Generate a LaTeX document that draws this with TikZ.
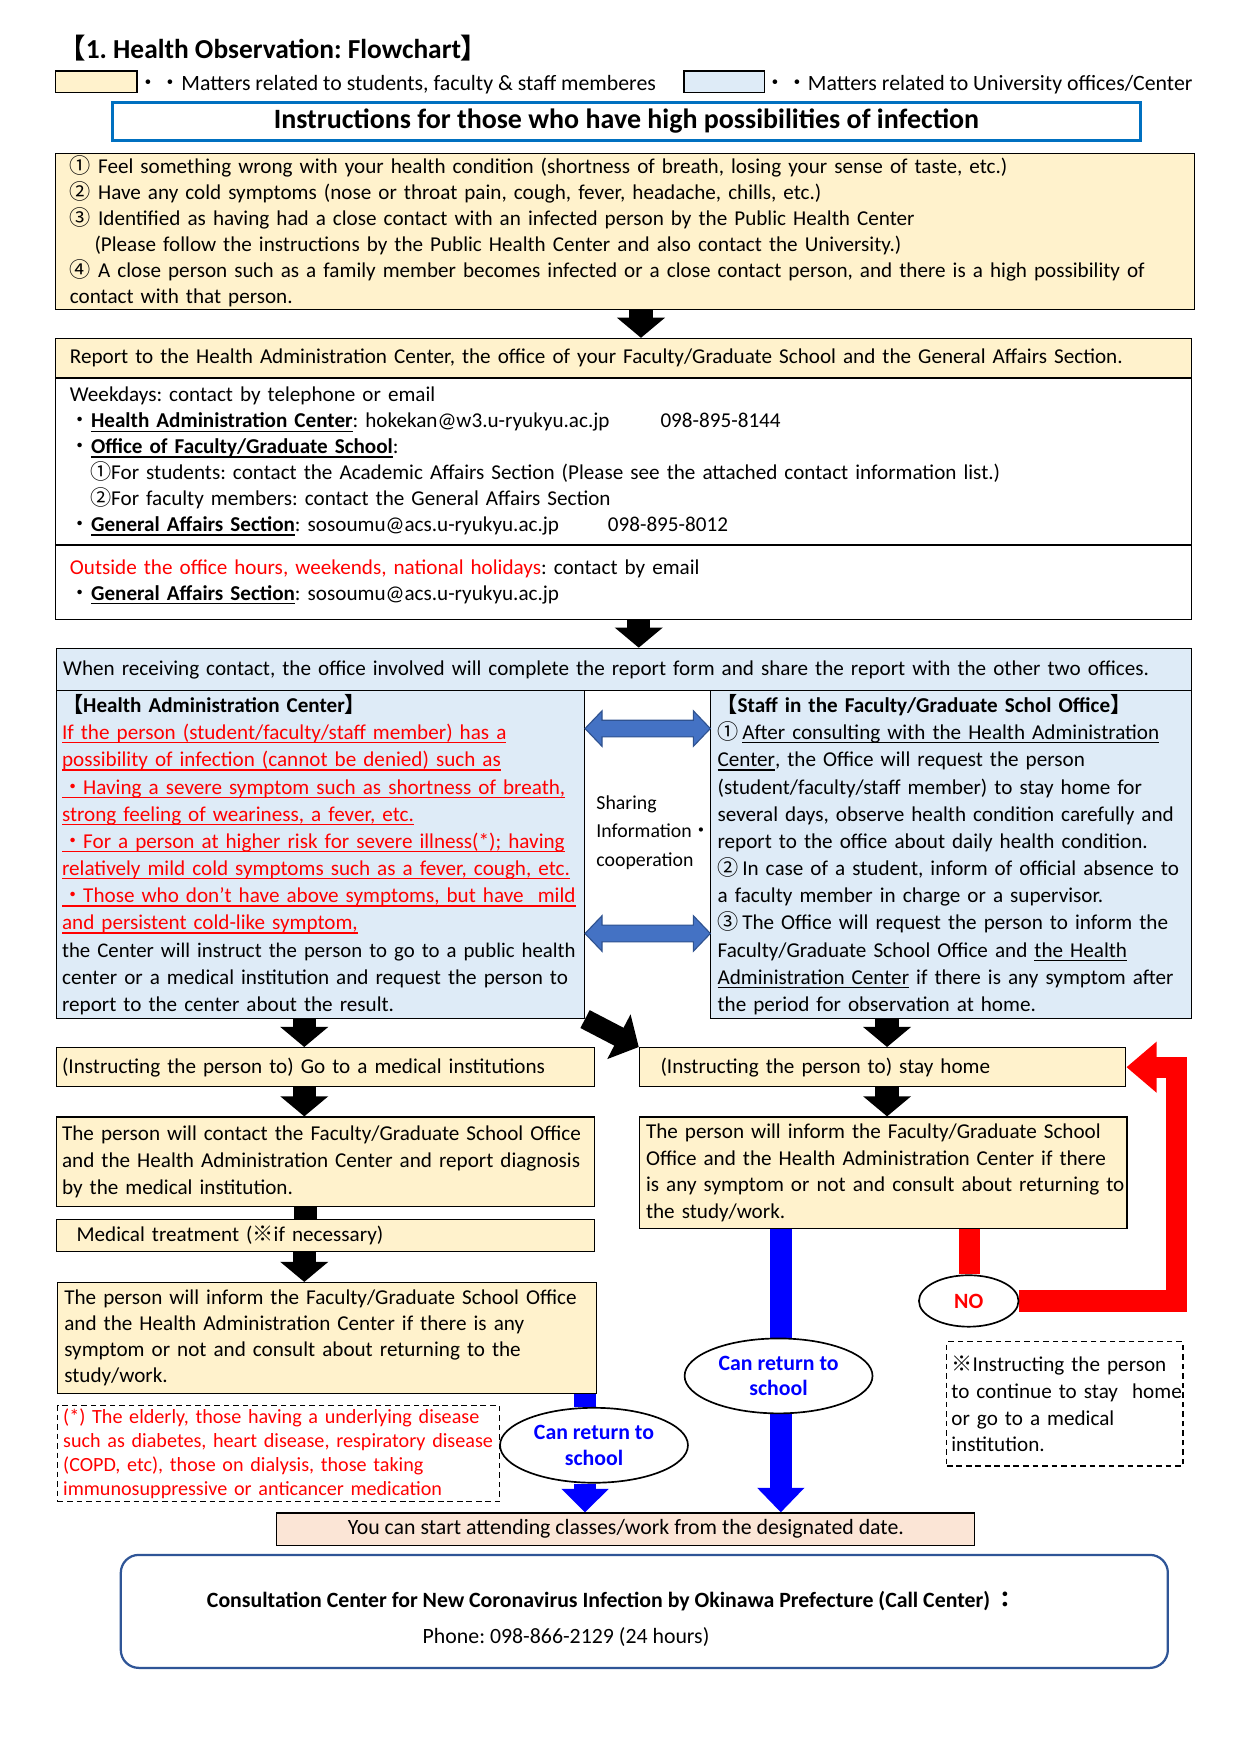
\documentclass[tikz,border=0pt]{standalone}
\usepackage{fontspec}
\setmainfont{Carlito}
\newfontfamily\cjk{Noto Sans CJK JP}
\usetikzlibrary{positioning, shapes.geometric, arrows.meta, backgrounds}
\definecolor{cellyel}{RGB}{255,242,204}
\definecolor{cellblu}{RGB}{222,235,247}
\definecolor{hdrblue}{RGB}{0,112,192}
\definecolor{arrblue}{RGB}{68,114,196}
\definecolor{arrline}{RGB}{47,82,143}
\definecolor{peach}{RGB}{251,229,214}
\definecolor{frameblue}{RGB}{47,85,151}
\newcommand\bodyfont{\fontsize{18.9}{23.2}\selectfont}
\newcommand\bigbody{\fontsize{19.5}{23.2}\selectfont}
\newcommand\smallfont{\fontsize{18}{21.3}\selectfont}
\newsavebox\ulbox
\newcommand\uln[1]{\leavevmode\sbox\ulbox{#1}\rlap{\rule[-3.4pt]{\wd\ulbox}{1.1pt}}\usebox\ulbox}
\frenchspacing
\hyphenpenalty=10000
\exhyphenpenalty=10000

\begin{document}
\begin{tikzpicture}[x=1pt, y=-1pt,
    box/.style={draw, line width=1pt, anchor=north west, inner ysep=0pt, align=left, font=\bodyfont},
    ybox/.style={box, fill=cellyel},
    bbox/.style={box, fill=cellblu},
    blkarr/.style={line width=21pt, -{Triangle[width=42pt, length=18pt]}},
    bluarr/.style={blue, line width=20pt},
    redarr/.style={red, line width=19pt},
    oval/.style={ellipse, draw, line width=1.5pt, fill=white, inner sep=0pt, align=center, font=\bfseries\bigbody},
    sharearr/.style={draw=arrline, fill=arrblue, line width=1pt, line join=miter},
    notebox/.style={draw, dash pattern=on 5pt off 3.5pt, line width=1pt, anchor=north west, inner ysep=0pt, align=left}]
    \useasboundingbox (0,0) rectangle (1109,1568);

    \node[anchor=west, inner sep=0pt, font=\bfseries\fontsize{24.5}{30}\selectfont] (title) at (52,43)
        {{\cjk 【}1. Health Observation: Flowchart{\cjk 】}};
    \node[ybox, minimum width=73pt, minimum height=19pt] (legy) at (49,63) {};
    \node[anchor=west, inner sep=0pt, font=\bigbody] (legyt) at (123,76)
        {{\cjk ・・}Matters related to students, faculty \& staff memberes};
    \node[bbox, minimum width=72pt, minimum height=19pt] (legb) at (611,63) {};
    \node[anchor=west, inner sep=0pt, font=\bigbody] (legbt) at (683,76)
        {{\cjk ・・}Matters related to University offices/Center};
    \node[draw=hdrblue, line width=3pt, anchor=north west, minimum width=919pt, minimum height=34pt,
        inner sep=0pt, font=\bfseries\fontsize{25}{30}\selectfont] (instr) at (99,90)
        {Instructions for those who have high possibilities of infection};

    \node[ybox, text width=992pt, inner xsep=13pt, minimum height=139pt] (sympt) at (49,137) {%
        {\cjk ①} Feel something wrong with your health condition (shortness of breath, losing your sense of taste, etc.)\\
        {\cjk ②} Have any cold symptoms (nose or throat pain, cough, fever, headache, chills, etc.)\\
        {\cjk ③} Identified as having had a close contact with an infected person by the Public Health Center\\
        \hspace*{22pt}(Please follow the instructions by the Public Health Center and also contact the University.)\\
        \mbox{{\cjk ④} A close person such as a family member becomes infected or a close contact person, and there is a high possibility of}\\
        contact with that person.};

    \node[ybox, text width=990pt, inner xsep=13pt, minimum height=35pt] (rephdr) at (49,302)
        {Report to the Health Administration Center, the office of your Faculty/Graduate School and the General Affairs Section.};
    \node[box, below=0pt of rephdr, text width=990pt, inner xsep=13pt, minimum height=148pt] (week) {%
        Weekdays: contact by telephone or email\\
        \makebox[528pt][l]{{\cjk ・}\uln{\textbf{Health Administration Center}}: hokekan@w3.u-ryukyu.ac.jp}098-895-8144\\
        {\cjk ・}\uln{\textbf{Office of Faculty/Graduate School}}:\\
        \hspace*{18pt}{\cjk ①}For students: contact the Academic Affairs Section (Please see the attached contact information list.)\\
        \hspace*{18pt}{\cjk ②}For faculty members: contact the General Affairs Section\\
        \makebox[481pt][l]{{\cjk ・}\uln{\textbf{General Affairs Section}}: sosoumu@acs.u-ryukyu.ac.jp}098-895-8012};
    \node[box, below=0pt of week, text width=990pt, inner xsep=13pt, minimum height=66pt] (offhrs) {%
        {\color{red}Outside the office hours, weekends, national holidays}: contact by email\\
        {\cjk ・}\uln{\textbf{General Affairs Section}}: sosoumu@acs.u-ryukyu.ac.jp};

    \node[bbox, text width=1003pt, inner xsep=6pt, minimum height=38pt] (recv) at (50,579)
        {When receiving contact, the office involved will complete the report form and share the report with the other two offices.};
    \node[bbox, text width=462pt, inner xsep=5pt, minimum height=293pt, font=\fontsize{18.9}{24.3}\selectfont] (hac) at (50,617) {%
        \textbf{{\cjk 【}Health Administration Center{\cjk 】}}\\
        {\color{red}\uln{If the person (student/faculty/staff member) has a}}\\
        {\color{red}\uln{possibility of infection (cannot be denied) such as}}\\
        {\color{red}\uln{{\cjk ・}Having a severe symptom such as shortness of breath,}}\\
        {\color{red}\uln{strong feeling of weariness, a fever, etc.}}\\
        {\color{red}\uln{{\cjk ・}For a person at higher risk for severe illness(*); having}}\\
        {\color{red}\uln{relatively mild cold symptoms such as a fever, cough, etc.}}\\
        {\color{red}\uln{{\cjk ・}Those who don't have above symptoms, but have\ \ mild}}\\
        {\color{red}\uln{and persistent cold-like symptom,}}\\
        \mbox{\fontsize{18.6}{24.3}\selectfont the Center will instruct the person to go to a public health}\\
        \mbox{center or a medical institution and request the person to}\\
        report to the center about the result.};
    \node[bbox, text width=418pt, inner xsep=6pt, minimum height=293pt, font=\fontsize{18.9}{24.3}\selectfont] (staff) at (635,617) {%
        \textbf{\hspace*{-1pt}{\cjk 【}Staff in the Faculty/Graduate Schol Office{\cjk 】}}\\
        {\cjk ①}\,\uln{After consulting with the Health Administration}\\
        \uln{Center}, the Office will request the person\\
        \mbox{(student/faculty/staff member) to stay home for}\\
        \mbox{several days, observe health condition carefully and}\\
        \mbox{report to the office about daily health condition.}\\
        \mbox{{\cjk ②}\,In case of a student, inform of official absence to}\\
        a faculty member in charge or a supervisor.\\
        \mbox{{\cjk ③}\,The Office will request the person to inform the}\\
        \mbox{Faculty/Graduate School Office and \uln{the Health}}\\
        \mbox{\uln{Administration Center} if there is any symptom after}\\
        the period for observation at home.};
    \node[anchor=west, inner sep=0pt, align=left, font=\fontsize{17.7}{25.5}\selectfont] (sharetxt) at (533,744)
        {Sharing\\Information{\cjk ・}\\cooperation};
    \coordinate (sh1) at (hac.east |- 0,651.3);
    \coordinate (sh2) at (hac.east |- 0,834.5);

    \node[ybox, text width=471pt, inner xsep=5pt, minimum height=35pt] (goto) at (50,936)
        {(Instructing the person to) Go to a medical institutions};
    \node[ybox, text width=423pt, inner xsep=6pt, minimum height=35pt] (home) at (571,936)
        {\hspace*{13pt}(Instructing the person to) stay home};
    \node[ybox, text width=471pt, inner xsep=5pt, minimum height=80pt, font=\fontsize{18.9}{24}\selectfont] (contact) at (50,998) {%
        \mbox{The person will contact the Faculty/Graduate School Office}\\
        \mbox{and the Health Administration Center and report diagnosis}\\
        by the medical institution.};
    \node[ybox, text width=469pt, inner xsep=6pt, minimum height=28pt] (medt) at (50,1090)
        {\hspace*{12pt}Medical treatment ({\cjk ※}if necessary)};
    \node[ybox, text width=470pt, inner xsep=6pt, minimum height=99pt] (informL) at (51,1146) {%
        \mbox{The person will inform the Faculty/Graduate School Office}\\
        and the Health Administration Center if there is any\\
        symptom or not and consult about returning to the\\
        study/work.};
    \node[ybox, text width=424pt, inner xsep=6pt, minimum height=100pt, font=\fontsize{18.9}{24}\selectfont] (informR) at (571,998) {%
        \mbox{The person will inform the Faculty/Graduate School}\\
        \mbox{Office and the Health Administration Center if there}\\
        \mbox{is any symptom or not and consult about returning to}\\
        the study/work.};

    \node[notebox, text width=385pt, inner xsep=5pt, minimum height=86pt, text=red, font=\smallfont] (frail) at (51,1256) {%
        (*) The elderly, those having a underlying disease\\
        \mbox{such as diabetes, heart disease, respiratory disease}\\
        (COPD, etc), those on dialysis, those taking\\
        immunosuppressive or anticancer medication};
    \node[notebox, text width=203pt, inner xsep=4pt, minimum height=111pt, font=\fontsize{18.9}{24}\selectfont] (note) at (846,1199) {%
        {\cjk ※}Instructing the person\\
        \mbox{to continue to stay\ \ home}\\
        or go to a medical\\
        institution.};

    \node[oval, minimum width=168pt, minimum height=67pt, text=blue] (canL) at (531,1292) {Can return to\\school};
    \node[oval, minimum width=168pt, minimum height=67pt, text=blue] (canR) at (696,1230) {Can return to\\school};
    \node[oval, minimum width=89pt, minimum height=46pt, text=red] (no) at (866,1163) {NO};

    \node[box, fill=peach, align=center, minimum width=624pt, minimum height=29pt, inner sep=0pt, font=\bigbody] (start) at (247,1352)
        {You can start attending classes/work from the designated date.};

    \node[draw=frameblue, line width=2pt, rounded corners=16pt, anchor=north west, minimum width=936pt,
        minimum height=101pt, inner sep=0pt] (callc) at (107,1389) {};
    \node[inner sep=0pt, font=\bfseries\bigbody] (callt) at (547,1431)
        {Consultation Center for New Coronavirus Infection by Okinawa Prefecture (Call Center)\ {\cjk ：}};
    \node[inner sep=0pt, font=\bigbody] (phone) at (506,1463) {Phone: 098-866-2129 (24 hours)};

    \foreach \s in {sh1, sh2}
        \draw[sharearr] (\s) -- ++(15.2,-15.9) -- ++(0,8.45) -- ++(81.6,0) -- ++(0,-8.45) -- ++(15.2,15.9)
            -- ++(-15.2,15.9) -- ++(0,-8.45) -- ++(-81.6,0) -- ++(0,8.45) -- cycle;

    \begin{scope}[on background layer]
        \fill[white] (0,0) rectangle (1109,1568);
        \draw[blkarr] (573,0 |- sympt.south) -- (573,0 |- rephdr.north);
        \draw[blkarr] (571,0 |- offhrs.south) -- (571,0 |- recv.north);
        \draw[blkarr] (272,0 |- hac.south) -- (272,0 |- goto.north);
        \draw[blkarr] (793,0 |- staff.south) -- (793,0 |- home.north);
        \draw[line width=18pt, -{Triangle[width=44pt, length=20pt]}] (hac.south east) -- (home.north west);
        \draw[blkarr] (272,0 |- goto.south) -- (272,0 |- contact.north);
        \draw[line width=21pt] (273,0 |- contact.south) -- (273,0 |- medt.north);
        \draw[blkarr] (272,0 |- medt.south) -- (272,0 |- informL.north);
        \draw[blkarr] (793,0 |- home.south) -- (793,0 |- informR.north);
        \draw[bluarr] (523,0 |- informL.south) -- (523,0 |- canL.north);
        \draw[bluarr, -{Triangle[width=41pt, length=21pt]}] (523,0 |- canL.south) -- (523,0 |- start.north);
        \draw[bluarr] (698,0 |- informR.south) -- (698,0 |- canR.north);
        \draw[bluarr, -{Triangle[width=41pt, length=22pt]}] (698,0 |- canR.south) -- (698,0 |- start.north);
        \draw[redarr] (867,0 |- informR.south) -- (867,0 |- no.north);
        \draw[redarr, -{Triangle[width=44pt, length=27pt]}] (no.east) -- (1052,0 |- no.east) -- (1052,0 |- home.east) -- (home.east);
    \end{scope}
\end{tikzpicture}
\end{document}
